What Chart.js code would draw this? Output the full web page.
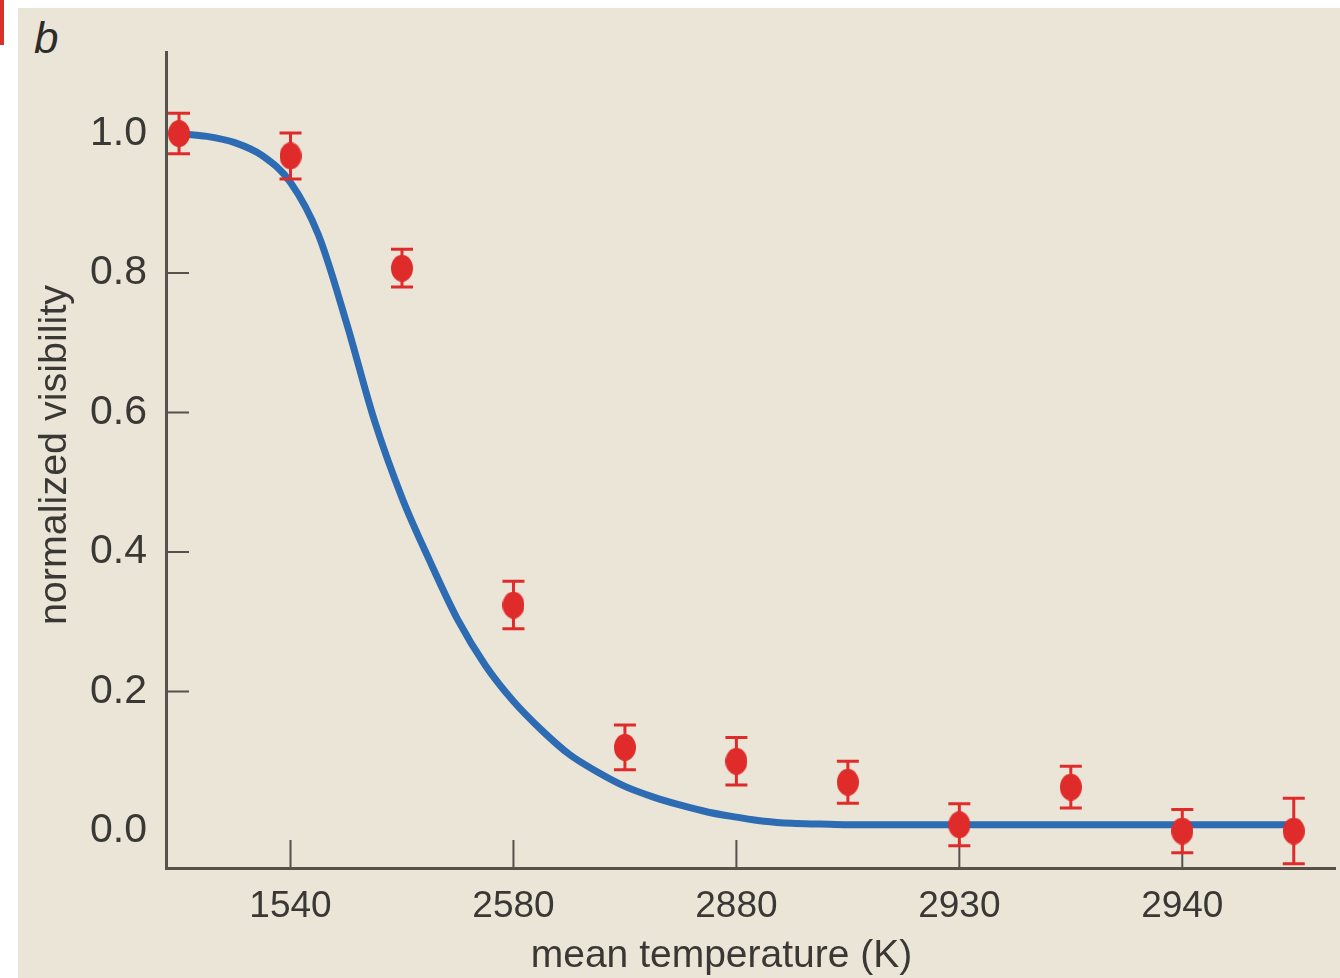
<!DOCTYPE html>
<html>
<head>
<meta charset="utf-8">
<script src="https://cdn.jsdelivr.net/npm/chart.js@4/dist/chart.umd.min.js"></script>
<style>
  html, body { margin: 0; padding: 0; background: #ffffff; }
  #wrap { position: relative; width: 1340px; height: 978px; overflow: hidden; }
  #panel { position: absolute; left: 18px; top: 8px; width: 1322px; height: 970px; background: #ebe5d8; }
  #tab { position: absolute; left: 0; top: 0; width: 4px; height: 45px; background: #d9302a; }
  #letter { position: absolute; left: 34px; top: 13px; font: italic 44px "Liberation Sans", Arial, sans-serif; color: #2e2c2a; }
  #chart { position: absolute; left: 0; top: 0; }
</style>
</head>
<body>
<div id="wrap">
  <div id="panel"></div>
  <div id="tab"></div>
  <div id="letter">b</div>
  <canvas id="chart" width="1340" height="978"></canvas>
</div>
<script>
// measured points (x = position along the axis, 0..10)
const pointX = [0, 1, 2, 3, 4, 5, 6, 7, 8, 9, 10];
const visibility = [1.0, 0.968, 0.807, 0.324, 0.120, 0.100, 0.070, 0.009, 0.063, 0.0, 0.0];
const visError = [0.029, 0.033, 0.027, 0.034, 0.032, 0.034, 0.030, 0.030, 0.030, 0.031, 0.047];

// fitted curve
const curveX = [0, 0.25, 0.5, 0.75, 1.0, 1.25, 1.5, 1.75, 2.0, 2.25, 2.5, 2.75, 3.0, 3.25, 3.5, 3.75,
  4.0, 4.25, 4.5, 4.75, 5.0, 5.25, 5.5, 5.75, 6.0, 7.0, 8.0, 9.0, 10.0];
const curveY = [1.0, 0.996, 0.987, 0.968, 0.930, 0.855, 0.730, 0.590, 0.478, 0.387, 0.303, 0.237, 0.186, 0.145, 0.110, 0.085,
  0.064, 0.049, 0.037, 0.027, 0.020, 0.014, 0.011, 0.010, 0.009, 0.009, 0.009, 0.009, 0.009];

// axis ticks and titles
const xTickPos = [1, 3, 5, 7, 9];
const xTickLabels = ["1540", "2580", "2880", "2930", "2940"];
const yTickValues = [0, 0.2, 0.4, 0.6, 0.8, 1.0];
const yInnerTicks = [0.2, 0.4, 0.6, 0.8];
const xTitle = "mean temperature (K)";
const yTitle = "normalized visibility";

const axisColor = "#55514b";
const textColor = "#3a3834";
const red = "#e02b2b";
const blue = "#2d6bb2";

// slightly tall dot, like the printed figure
const dot = document.createElement("canvas");
dot.width = 22;
dot.height = 27;
const dctx = dot.getContext("2d");
dctx.fillStyle = red;
dctx.beginPath();
dctx.ellipse(11, 13.5, 11, 13.5, 0, 0, Math.PI * 2);
dctx.fill();

const innerTicks = {
  id: "innerTicks",
  beforeDatasetsDraw(chart) {
    const { ctx, scales: { x, y } } = chart;
    ctx.save();
    ctx.strokeStyle = axisColor;
    ctx.lineWidth = 2;
    ctx.beginPath();
    xTickPos.forEach((v) => {
      const px = x.getPixelForValue(v);
      ctx.moveTo(px, y.bottom);
      ctx.lineTo(px, y.bottom - 28);
    });
    yInnerTicks.forEach((v) => {
      const py = y.getPixelForValue(v);
      ctx.moveTo(x.left, py);
      ctx.lineTo(x.left + 23, py);
    });
    ctx.stroke();
    ctx.restore();
  },
};

// axis titles: the x title sits a little left of the axis centre in the print
const axisTitles = {
  id: "axisTitles",
  afterDraw(chart) {
    const { ctx, scales: { x, y } } = chart;
    ctx.save();
    ctx.fillStyle = textColor;
    ctx.textAlign = "center";
    ctx.textBaseline = "middle";
    ctx.font = "39px 'Liberation Sans', Arial, sans-serif";
    ctx.fillText(xTitle, (x.left + x.right) / 2 - 29, x.bottom - 22);
    ctx.translate(55, (y.top + y.bottom) / 2 - 5);
    ctx.rotate(-Math.PI / 2);
    ctx.font = "39.5px 'Liberation Sans', Arial, sans-serif";
    ctx.fillText(yTitle, 0, 0);
    ctx.restore();
  },
};

const errorBars = {
  id: "errorBars",
  afterDatasetsDraw(chart) {
    const { ctx, scales: { x, y } } = chart;
    ctx.save();
    ctx.strokeStyle = red;
    ctx.lineWidth = 3;
    ctx.beginPath();
    pointX.forEach((v, i) => {
      const px = x.getPixelForValue(v);
      const top = y.getPixelForValue(visibility[i] + visError[i]);
      const bot = y.getPixelForValue(visibility[i] - visError[i]);
      ctx.moveTo(px, top);
      ctx.lineTo(px, bot);
      ctx.moveTo(px - 11, top);
      ctx.lineTo(px + 11, top);
      ctx.moveTo(px - 11, bot);
      ctx.lineTo(px + 11, bot);
    });
    ctx.stroke();
    ctx.restore();
  },
};

new Chart(document.getElementById("chart"), {
  type: "scatter",
  data: {
    datasets: [
      {
        label: "measured",
        data: pointX.map((v, i) => ({ x: v, y: visibility[i] })),
        pointStyle: dot,
        pointRadius: 12,
        pointHoverRadius: 12,
      },
      {
        label: "fit",
        type: "line",
        data: curveX.map((v, i) => ({ x: v, y: curveY[i] })),
        borderColor: blue,
        borderWidth: 7,
        pointRadius: 0,
        fill: false,
        cubicInterpolationMode: "monotone",
      },
    ],
  },
  options: {
    responsive: false,
    animation: false,
    events: [],
    layout: { autoPadding: false, padding: { left: 0, top: 52, right: 5, bottom: 0 } },
    plugins: {
      legend: { display: false },
      tooltip: { enabled: false },
    },
    scales: {
      x: {
        type: "linear",
        min: -0.117,
        max: 10.37,
        grid: { display: false, drawTicks: false },
        border: { display: true, color: axisColor, width: 3 },
        afterBuildTicks: (scale) => {
          scale.ticks = xTickPos.map((v) => ({ value: v }));
        },
        afterFit: (scale) => {
          scale.height = 110;
          scale.paddingLeft = 0;
          scale.paddingRight = 0;
        },
        ticks: {
          padding: 17,
          color: textColor,
          font: { family: "'Liberation Sans', sans-serif", size: 37 },
          callback: (v) => xTickLabels[xTickPos.indexOf(v)],
        },
      },
      y: {
        min: -0.053,
        max: 1.117,
        grid: { display: false, drawTicks: false },
        border: { display: true, color: axisColor, width: 3 },
        afterBuildTicks: (scale) => {
          scale.ticks = yTickValues.map((v) => ({ value: v }));
        },
        afterFit: (scale) => {
          scale.width = 166;
          scale.paddingTop = 0;
          scale.paddingBottom = 0;
        },
        ticks: {
          padding: 19,
          color: textColor,
          font: { family: "'Liberation Sans', sans-serif", size: 41 },
          callback: (v) => v.toFixed(1),
        },
      },
    },
  },
  plugins: [innerTicks, errorBars, axisTitles],
});
</script>
</body>
</html>
